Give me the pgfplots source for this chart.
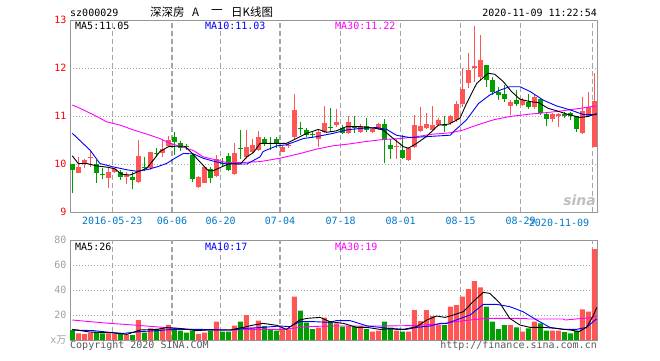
\documentclass[border=0pt]{standalone}
\usepackage{fontspec}
\setmainfont{DejaVu Sans Mono}
\newfontfamily\cjk{Noto Sans CJK SC}
\newfontfamily\sansf{DejaVu Sans}
\usepackage{pgfplots}
\pgfplotsset{compat=1.18}
\usepackage{pgfplotstable}
\definecolor{cred}{RGB}{255,85,85}
\definecolor{cgreen}{RGB}{0,158,0}
\definecolor{cgrid}{RGB}{165,165,165}
\definecolor{cframe}{RGB}{150,150,150}
\definecolor{cdate}{RGB}{0,120,200}
\definecolor{cmag}{RGB}{255,0,255}
\definecolor{cvol}{RGB}{160,160,160}
\tikzset{vgrid/.style={draw=cgrid, dash pattern=on 5pt off 3pt, line width=1.3pt}}

\pgfplotstableread{
i lo hi bot top
2 9.82 10.15 9.82 9.94
3 9.92 10.10 10.00 10.08
4 9.94 10.29 10.13 10.15
7 9.49 9.91 9.71 9.84
8 9.82 9.92 9.84 9.89
10 9.58 9.84 9.72 9.78
12 9.60 10.50 9.63 10.17
14 9.88 10.24 9.91 10.24
16 10.15 10.50 10.22 10.31
17 10.35 10.58 10.38 10.50
22 9.51 9.74 9.53 9.72
23 9.60 9.94 9.61 9.93
25 9.72 10.19 9.74 10.10
28 9.78 10.43 9.79 10.22
30 10.10 10.71 10.15 10.35
31 10.22 10.53 10.26 10.40
32 10.28 10.69 10.30 10.57
36 10.24 10.40 10.26 10.36
37 10.34 10.45 10.38 10.40
38 10.53 11.46 10.56 11.12
42 10.36 10.71 10.53 10.67
43 10.64 11.21 10.67 10.86
45 10.78 11.14 10.81 10.87
47 10.62 10.99 10.65 10.87
49 10.65 10.83 10.67 10.80
51 10.64 10.75 10.67 10.73
52 10.70 10.85 10.72 10.83
55 10.10 10.53 10.35 10.37
57 10.06 10.35 10.08 10.33
58 10.33 11.02 10.36 10.81
59 10.66 11.19 10.69 10.79
60 10.72 11.06 10.74 10.83
61 10.69 11.21 10.71 10.81
62 10.79 10.95 10.81 10.92
64 10.82 11.02 10.85 11.00
65 10.88 11.31 10.92 11.26
66 11.19 12.00 11.26 11.56
67 11.58 12.31 11.68 11.96
68 11.70 12.88 12.00 12.04
69 11.75 12.69 11.82 12.17
74 11.02 11.33 11.21 11.30
76 11.20 11.37 11.23 11.33
78 11.15 11.44 11.19 11.39
81 10.88 11.06 10.94 11.04
82 10.78 11.06 10.99 11.04
86 10.62 11.40 10.64 11.11
87 10.98 11.51 11.00 11.18
88 10.35 11.89 10.36 11.32
}\redk

\pgfplotstableread{
i lo hi bot top
1 9.40 10.00 9.875 10.00
5 9.60 10.08 9.82 10.00
6 9.68 9.91 9.77 9.79
9 9.67 9.88 9.72 9.84
11 9.47 9.84 9.67 9.72
13 9.85 10.14 9.91 9.93
15 10.15 10.33 10.21 10.23
18 10.19 10.67 10.46 10.56
19 10.28 10.47 10.33 10.44
20 10.30 10.42 10.36 10.38
21 9.63 10.22 9.68 10.19
24 9.60 9.94 9.70 9.90
26 9.95 10.12 10.00 10.02
27 9.85 10.22 9.88 10.17
29 10.10 10.71 10.32 10.34
33 10.38 10.57 10.41 10.52
34 10.29 10.57 10.42 10.44
35 10.33 10.57 10.43 10.53
39 10.60 10.88 10.72 10.74
40 10.57 10.74 10.60 10.71
41 10.55 10.68 10.61 10.63
44 10.67 11.16 10.75 10.77
46 10.62 10.82 10.65 10.76
48 10.64 10.99 10.75 10.77
50 10.66 10.95 10.71 10.79
53 10.03 10.93 10.51 10.83
54 10.10 10.53 10.32 10.40
56 10.10 10.60 10.13 10.29
63 10.67 10.99 10.80 10.82
70 11.61 12.06 11.76 12.06
71 11.44 11.82 11.51 11.75
72 11.33 11.61 11.44 11.51
73 11.30 11.65 11.35 11.46
75 11.20 11.54 11.26 11.33
77 11.15 11.46 11.19 11.30
79 11.02 11.37 11.07 11.35
80 10.79 11.09 10.94 11.04
83 10.95 11.08 11.00 11.04
84 10.92 11.09 10.99 11.06
85 10.67 11.01 10.72 10.99
}\greenk

\pgfplotstableread{
i v
2 5.3
3 4.8
4 5.9
7 5.3
8 5.1
10 4.3
12 16
14 9.3
16 10
17 12
22 4.8
23 5.9
25 14.7
28 11.5
30 20
31 10
32 15.5
36 9.3
37 8.5
38 34.7
42 9.9
43 17.9
45 13.3
47 11.2
49 11.2
51 6.7
52 7.5
55 7.5
57 6.7
58 24
59 15.2
60 24
61 19.2
62 12
64 26.7
65 28
66 34.7
67 40.8
68 47.2
69 42.1
74 12
76 6.7
78 14.7
81 7.5
82 7.5
86 24.5
87 22.7
88 72.8
}\redv

\pgfplotstableread{
i v
1 8
5 6.4
6 5.3
9 5.1
11 4.0
13 5.9
15 9
18 9.3
19 7.5
20 5.9
21 7.5
24 7.5
26 6.7
27 6.7
29 14.7
33 11.2
34 8.5
35 7.5
39 23.5
40 13.9
41 8.8
44 15.2
46 10.7
48 10.7
50 8.8
53 14.7
54 10
56 6.7
63 12
70 26.7
71 14.7
72 8.8
73 12
75 10.1
77 9.3
79 13.3
80 7.5
83 6.4
84 5.3
85 7.5
}\greenv

\pgfplotsset{
  kbase/.style={
    scale only axis, width=527pt, xmin=0.617, xmax=88.45,
    axis line style={cframe, line width=1pt},
    major tick length=0pt,
    xtick={7.67,17.62,25.73,35.62,45.73,55.73,65.73,75.73,87.73},
    ymajorgrids=true,
    major y grid style={cgrid, dash pattern=on 1pt off 2pt, line width=0.9pt},
    tick label style={font=\fontsize{10}{12}\selectfont},
  },
  candle/.style 2 args={draw=none, mark=none, forget plot,
    error bars/.cd, y dir=plus, y explicit, error mark=none,
    error bar style={draw=#1, line width=#2}},
}

\begin{document}
\begin{tikzpicture}
\path[use as bounding box] (0,0) rectangle (660pt,360pt);

% ---------------- price panel ----------------
\begin{axis}[kbase, at={(70pt,148pt)}, anchor=south west, height=192pt,
  ymin=9, ymax=13, ytick={9,10,11,12,13}, yticklabels={9,10,11,12,13},
  yticklabel style={red},
  xticklabels={2016-05-23,06-06,06-20,07-04,07-18,08-01,08-15,08-29,{}},
  xticklabel style={cdate, yshift=-2pt},
  extra x ticks={87.73}, extra x tick labels={2020-11-09},
  extra x tick style={xticklabel style={anchor=north east, cdate, yshift=-2pt}},
]
\addplot[vgrid, ycomb, mark=none, forget plot] coordinates {
(7.67,13)(17.62,13)(25.73,13)(35.62,13)(45.73,13)(55.73,13)(65.73,13)(75.73,13)(87.73,13)};
% wicks
\addplot[candle={cred}{1pt}]
  table[x=i, y=lo, y error plus expr=\thisrow{hi}-\thisrow{lo}] {\redk};
\addplot[candle={cgreen}{1pt}]
  table[x=i, y=lo, y error plus expr=\thisrow{hi}-\thisrow{lo}] {\greenk};
% bodies
\addplot[candle={cred}{5pt}]
  table[x=i, y=bot, y error plus expr=\thisrow{top}-\thisrow{bot}] {\redk};
\addplot[candle={cgreen}{5pt}]
  table[x=i, y=bot, y error plus expr=\thisrow{top}-\thisrow{bot}] {\greenk};

% MA30
\addplot[cmag, line width=0.9pt, mark=none] coordinates {
(1,11.23)(2.3,11.16)(5.1,10.99)(6.7,10.88)(8.95,10.81)(11.2,10.71)(13.95,10.60)
(15.6,10.53)(17.3,10.43)(19.5,10.35)(21.2,10.28)(22.8,10.15)(25.1,10.08)
(26.7,10.03)(29,10.03)(32.3,10.05)(35.6,10.12)(39,10.22)(41.7,10.31)
(44.5,10.38)(47.3,10.42)(50,10.47)(52.8,10.51)(55.6,10.53)(58.4,10.57)
(61,10.62)(64,10.65)(66.2,10.71)(68.4,10.81)(71.2,10.92)(73.9,10.99)
(77.3,11.04)(80,11.07)(82.8,11.11)(85.6,11.16)(88.4,11.21)};
% MA10
\addplot[blue, line width=0.9pt, mark=none] coordinates {
(1,10.64)(3.95,10.29)(5.6,10.01)(7.8,9.94)(10.1,9.88)(11.7,9.85)(13.4,9.88)
(15.1,9.94)(16.7,10.01)(18.1,10.12)(19.5,10.22)(21.2,10.21)(22.8,10.12)
(24.5,10.06)(26.7,10.0)(30.1,10.0)(32.3,10.15)(32.8,10.26)(35.1,10.38)
(36.7,10.40)(39.5,10.53)(41.7,10.57)(44.5,10.64)(46.7,10.71)(48.9,10.74)
(51.7,10.76)(53.4,10.72)(55,10.60)(57.3,10.55)(60,10.57)(64,10.60)
(64.5,10.67)(66.7,10.92)(68.7,11.26)(70.6,11.44)(72.3,11.54)(73.9,11.61)
(75.6,11.61)(77.3,11.51)(79.5,11.33)(81.7,11.21)(83.9,11.13)(86.2,11.03)(88.4,11.03)};
% MA5
\addplot[black, line width=0.9pt, mark=none] coordinates {
(1,10.17)(2,10.01)(3.4,10.01)(5.1,9.96)(7,9.93)(8.1,9.90)(9.2,9.79)(10.6,9.77)
(12,9.84)(13.4,9.91)(14.5,10.08)(15.6,10.26)(17,10.36)(18.1,10.37)(19.8,10.37)
(21.2,10.19)(22.6,10.0)(23.7,9.86)(24.5,9.86)(25.9,9.94)(27,10.0)(27.8,10.01)
(29,10.0)(30.1,10.15)(31.2,10.24)(32.3,10.43)(36.7,10.43)(40.1,10.64)
(42,10.72)(43.4,10.66)(45,10.69)(46.7,10.78)(48.9,10.78)(51.7,10.74)
(52.8,10.71)(54.5,10.53)(56.2,10.36)(57,10.33)(58.4,10.43)(60,10.57)
(62,10.81)(63.7,10.83)(65.6,10.95)(66.7,11.26)(68.4,11.68)(70.3,11.89)
(71.4,11.87)(72.8,11.72)(74.2,11.51)(75.6,11.35)(77.3,11.30)(78.7,11.28)
(80.3,11.16)(81.7,11.11)(83.7,11.03)(85.6,10.97)(86.9,10.99)(88.4,11.05)};
\end{axis}

% ---------------- volume panel ----------------
\begin{axis}[kbase, at={(70pt,20pt)}, anchor=south west, height=100pt,
  ymin=0, ymax=80, ytick={0,20,40,60,80},
  yticklabels={{x\cjk 万},20,40,60,80},
  yticklabel style={cvol},
  xticklabels={},
]
\addplot[vgrid, ycomb, mark=none, forget plot] coordinates {
(7.67,80)(17.62,80)(25.73,80)(35.62,80)(45.73,80)(55.73,80)(65.73,80)(75.73,80)(87.73,80)};
\addplot[ybar, bar width=5pt, bar shift=0pt, fill=cred, draw=none, forget plot]
  table[x=i, y=v] {\redv};
\addplot[ybar, bar width=5pt, bar shift=0pt, fill=cgreen, draw=none, forget plot]
  table[x=i, y=v] {\greenv};
% MA30
\addplot[cmag, line width=0.9pt, mark=none] coordinates {
(1,16)(3.9,14.7)(7.3,13.3)(11.2,12)(14.6,10.7)(18.4,9.3)(22.3,8)(27.3,8)
(32.3,8.5)(36.2,8.5)(40.1,10.7)(43.9,11.2)(52.3,11.2)(57.3,11.5)(62.3,12.8)
(65,14.7)(67.3,16)(70.1,17.3)(76.6,17.3)(77,16.8)(82.8,16.8)(83.2,16.0)
(87.4,17.9)(88.4,19.2)};
% MA10
\addplot[blue, line width=0.9pt, mark=none] coordinates {
(1,8)(4.5,7.5)(7.3,6.1)(9.5,5.3)(12.3,6.7)(15.1,7.5)(17.8,8.5)(22.3,8.5)
(27.3,8)(30,9.3)(32.8,10.1)(35.6,11.2)(37.3,10.7)(38.9,14.7)(41.2,14.7)
(43.9,14.1)(45,15.5)(47.3,15.5)(50.2,11.2)(52.3,10.1)(55,8.5)(56.7,8.5)
(58.4,10.1)(60.6,11.2)(62.3,13.3)(63.4,13.3)(65,16)(67.3,20)(69.5,28.5)
(71.7,28.5)(73.9,26.7)(76.1,22.7)(78.4,16)(80.6,10.1)(82.8,8.5)(85,8.5)
(86.7,10.1)(87.5,13.3)(88.4,17)};
% MA5
\addplot[black, line width=0.9pt, mark=none] coordinates {
(1,8.5)(3.9,6.4)(7.3,5.9)(10.1,4.5)(12.3,8.0)(15.1,8.5)(16.7,9.9)(18.9,9.3)
(21.7,7.5)(23.4,8.0)(27.3,8.0)(29.5,10.1)(31.2,12)(32.8,13.3)(35.1,11.7)
(36.7,8.5)(38.9,16)(40.1,17.3)(42.3,18.1)(43.9,14.7)(46.2,13.3)(48.4,10.1)
(50.1,10.1)(52.3,8.5)(54.5,9.1)(56.2,8.5)(58.4,10.7)(60.1,16)(61.7,19.2)
(63.1,18.1)(64.5,20)(66.2,22.7)(67.8,30.7)(69.5,38.1)(70.6,37.3)(72.3,29.3)
(73.9,17.3)(75.6,12)(77.3,10.1)(79.5,10.1)(81.7,9.3)(84,8)(85.4,6.7)
(86.7,10.1)(87.8,19.2)(88.4,26)};
\end{axis}

% ---------------- texts ----------------
\begin{scope}[every node/.style={inner sep=0pt, font=\fontsize{10}{12}\selectfont}]
\node[anchor=west] at (70pt,347.5pt) {sz000029};
\node[anchor=east] at (597pt,347.5pt) {2020-11-09 11:22:54};
\node[anchor=west, font=\cjk\fontsize{11.5}{13}\selectfont] at (150pt,347.5pt) {深深房};
\node[anchor=west, font=\cjk\fontsize{11.5}{13}\selectfont] at (192pt,347.5pt) {A};
\node[anchor=west, font=\cjk\fontsize{11.5}{13}\selectfont] at (211pt,347.5pt) {一};
\node[anchor=west, font=\cjk\fontsize{11.5}{13}\selectfont] at (231pt,347.5pt) {日K线图};

\node[anchor=west] at (75pt,334pt) {MA5:11.05};
\node[anchor=west, text=blue] at (205pt,334pt) {MA10:11.03};
\node[anchor=west, text=cmag] at (335pt,334pt) {MA30:11.22};

\node[anchor=west] at (75pt,113.5pt) {MA5:26};
\node[anchor=west, text=blue] at (205pt,113.5pt) {MA10:17};
\node[anchor=west, text=cmag] at (335pt,113.5pt) {MA30:19};

\node[anchor=west, text=black!65] at (70pt,14pt) {Copyright 2020 SINA.COM};
\node[anchor=east, text=black!65] at (597pt,14pt) {http://finance.sina.com.cn};

\node[anchor=east, text=black!25, font=\sansf\bfseries\itshape\fontsize{14}{16}\selectfont] at (596pt,160pt) {sina};
\end{scope}
\end{tikzpicture}
\end{document}
